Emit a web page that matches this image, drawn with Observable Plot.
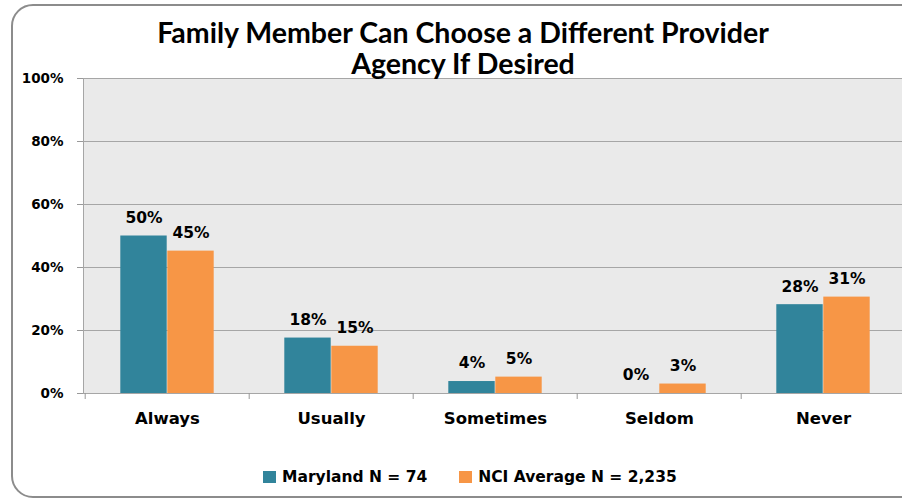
<!DOCTYPE html>
<html><head><meta charset="utf-8">
<script src="https://cdn.jsdelivr.net/npm/d3@7"></script>
<script src="https://cdn.jsdelivr.net/npm/@observablehq/plot@0.6"></script>
<style>
body{margin:0;background:#fff;}
#wrap{position:relative;width:902px;height:499px;overflow:hidden;font-family:"DejaVu Sans",sans-serif;background:#fff;}
#title{position:absolute;left:0;top:17px;width:926px;text-align:center;font-family:Lato,"Open Sans",sans-serif;font-weight:bold;font-size:28.5px;line-height:31px;color:#000;}
#chart{position:absolute;left:0;top:60px;width:910px;}
#legend{position:absolute;left:263px;top:468px;height:18px;display:flex;align-items:center;font-family:"DejaVu Sans",sans-serif;font-weight:bold;font-size:15.5px;color:#000;white-space:nowrap;}
#legend .sw{width:13px;height:12px;margin-right:6px;}
#legend .item{display:flex;align-items:center;margin-right:32px;}
#border{position:absolute;left:11px;top:4px;width:960px;height:494px;border:2px solid #8c8c8c;border-radius:22px;box-sizing:border-box;pointer-events:none;}
</style>
</head><body>
<div id="wrap">
  <div id="chart"></div>
  <div id="title">Family Member Can Choose a Different Provider<br>Agency If Desired</div>
  <div id="legend"></div>
  <div id="border"></div>
</div>
<script>
const categories = ["Always", "Usually", "Sometimes", "Seldom", "Never"];
const seriesNames = ["Maryland N = 74", "NCI Average N = 2,235"];
const seriesColors = ["#31849B", "#F79646"];
const maryland = [50, 17.6, 3.8, 0, 28.2];
const nci = [45.2, 15, 5.2, 3, 30.6];
const yTicks = [0, 20, 40, 60, 80, 100];

const mdRows = categories.map((c, i) => ({cat: c, series: seriesNames[0], value: maryland[i]}));
const nciRows = categories.map((c, i) => ({cat: c, series: seriesNames[1], value: nci[i]}));
const fmt = v => `${Math.round(v)}%`;

const W = 910, ML = 83, MR = 4;
const band = (W - ML - MR) / categories.length;
const barW = 47;
const outer = (band - 2 * barW) / 2;

const chart = Plot.plot({
  width: W,
  height: 373,
  marginLeft: ML,
  marginRight: MR,
  marginTop: 18,
  marginBottom: 40,
  style: {background: "transparent", maxWidth: "none", fontFamily: "DejaVu Sans, sans-serif", color: "#000"},
  x: {type: "band", domain: categories, padding: 0, label: null},
  y: {domain: [0, 100], label: null},
  marks: [
    Plot.frame({fill: "#eaeaea", stroke: "#a6a6a6"}),
    Plot.gridY(yTicks, {stroke: "#a6a6a6", strokeOpacity: 1}),
    Plot.barY(mdRows, {x: "cat", y: "value", fill: seriesColors[0], insetLeft: outer, insetRight: band - outer - barW}),
    Plot.barY(nciRows, {x: "cat", y: "value", fill: seriesColors[1], insetLeft: band - outer - barW, insetRight: outer}),
    Plot.text(mdRows, {x: "cat", y: "value", text: d => fmt(d.value), dx: -barW / 2, dy: -18, fontSize: 15.5, fontWeight: "bold", fill: "#000"}),
    Plot.text(nciRows, {x: "cat", y: "value", text: d => fmt(d.value), dx: barW / 2, dy: -18, fontSize: 15.5, fontWeight: "bold", fill: "#000"}),
    Plot.axisY(yTicks, {tickFormat: d => d + "%", tickSize: 6, tickPadding: 14, stroke: "#999", fill: "#000", fontSize: 13.5, fontWeight: "bold"}),
    Plot.axisX({tickSize: 6, tickFormat: () => "", dx: -band / 2, stroke: "#999"}),
    Plot.axisX({tickSize: 0, tickPadding: 19, fontSize: 16.5, fontWeight: "bold", fill: "#000"})
  ]
});
document.getElementById("chart").appendChild(chart);

const legend = document.getElementById("legend");
seriesNames.forEach((name, i) => {
  const item = document.createElement("div");
  item.className = "item";
  const sw = document.createElement("div");
  sw.className = "sw";
  sw.style.background = seriesColors[i];
  const t = document.createElement("span");
  t.textContent = name;
  item.appendChild(sw);
  item.appendChild(t);
  legend.appendChild(item);
});
</script>
</body></html>
